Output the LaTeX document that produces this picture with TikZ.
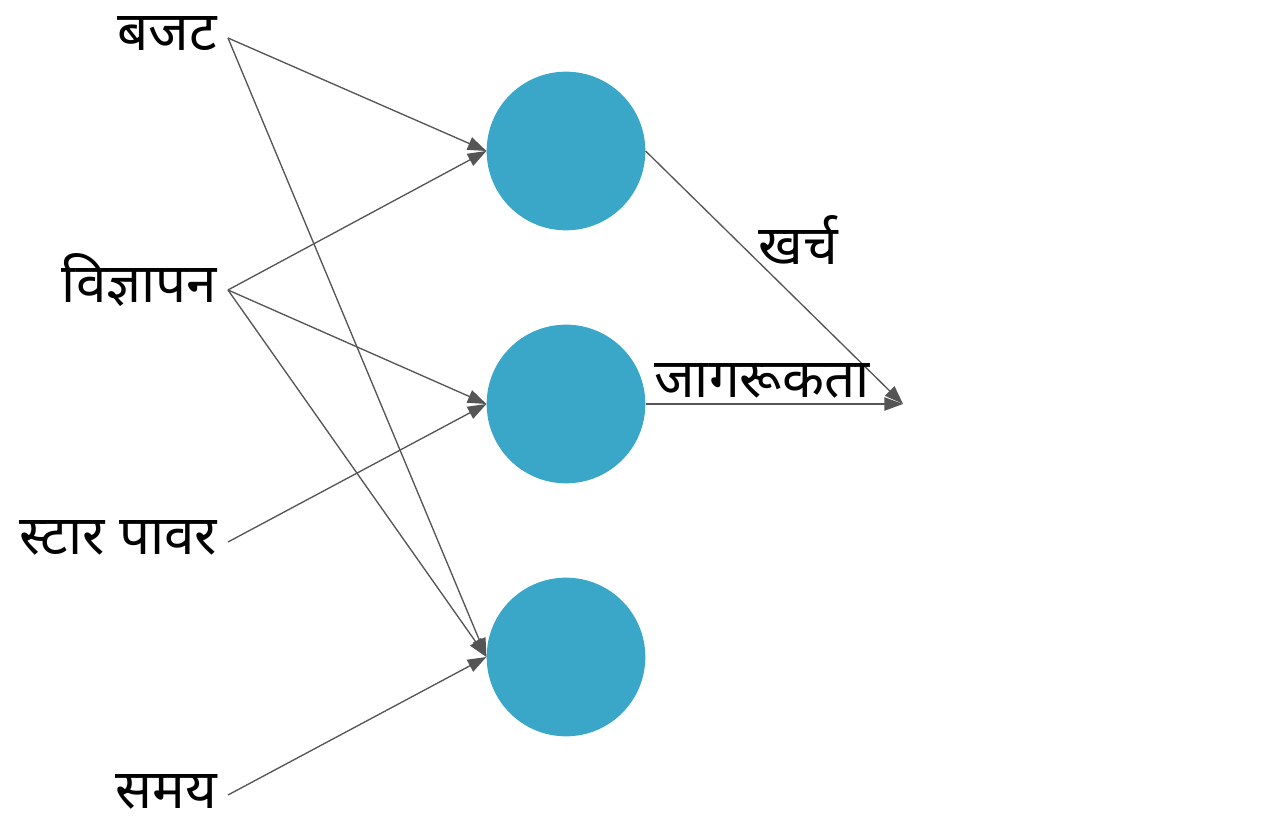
\documentclass[tikz,border=0pt]{standalone}
\usepackage{fontspec}
\newfontfamily\dev[Script=Devanagari]{Noto Sans}
\usetikzlibrary{arrows.meta}
\definecolor{nodeblue}{HTML}{3AA7C9}
\definecolor{linegray}{HTML}{555555}
\begin{document}
\begin{tikzpicture}[x=0.75pt,y=-0.75pt,
  lbl/.style={font=\dev\fontsize{41}{47}\selectfont, inner sep=0pt, text=black},
  inlbl/.style={lbl, anchor=base east, inner xsep=8pt, text depth=0pt},
  neuron/.style={circle, fill=nodeblue, draw=none, minimum size=119pt, inner sep=0pt},
  conn/.style={draw=linegray, line width=1pt, -{Triangle[length=14pt,width=10pt]}},
  src/.style={yshift=9.75pt}]
\useasboundingbox (0,0) rectangle (1283,816);
\node[inlbl] (b) at (228,51) {बजट};
\node[inlbl] (v) at (228,303) {विज्ञापन};
\node[inlbl] (s) at (228,555) {स्टार पावर};
\node[inlbl] (t) at (228,808) {समय};
\node[neuron] (c1) at (566,151) {};
\node[neuron] (c2) at (566,404) {};
\node[neuron] (c3) at (566,657) {};
\coordinate (out) at (903,404);
\draw[conn] ([src]b.base east) -- (c1.west);
\draw[conn] ([src]b.base east) -- (c3.west);
\draw[conn] ([src]v.base east) -- (c1.west);
\draw[conn] ([src]v.base east) -- (c2.west);
\draw[conn] ([src]v.base east) -- (c3.west);
\draw[conn] ([src]s.base east) -- (c2.west);
\draw[conn] ([src]t.base east) -- (c3.west);
\draw[conn] (c1.east) -- (out);
\draw[conn] (c2.east) -- (out);
\node[lbl] (kh) at (798,240) {खर्च};
\node[lbl] (jg) at (762,381) {जागरूकता};
\end{tikzpicture}
\end{document}
